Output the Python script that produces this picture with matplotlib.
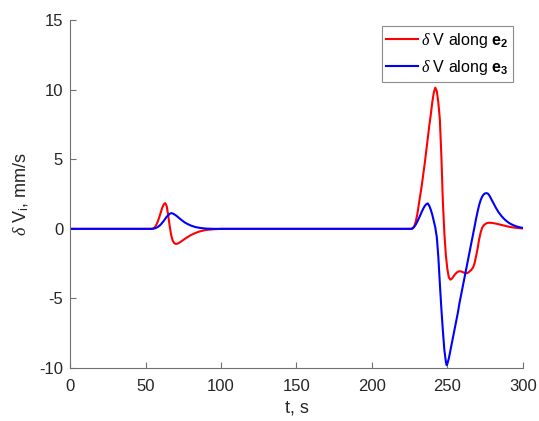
import matplotlib.pyplot as plt
import numpy as np

plt.rcParams['font.family'] = ['Liberation Sans', 'DejaVu Sans']
plt.rcParams['mathtext.fontset'] = 'custom'
plt.rcParams['mathtext.rm'] = 'Liberation Sans'
plt.rcParams['mathtext.it'] = 'Liberation Serif:italic'
plt.rcParams['mathtext.bf'] = 'Liberation Sans:bold'
plt.rcParams['axes.unicode_minus'] = False

# delta V along e2 (red)
t_e2 = [0, 54, 55, 56, 57, 58, 59, 60, 61, 62, 63, 64, 65, 66, 67, 68, 69, 70,
        71, 72, 73, 75, 77, 80, 83, 86, 90, 95, 100,
        226, 227, 228, 229, 230, 231, 232, 233, 234, 235, 236, 237, 238, 239,
        240, 241, 242, 243, 244, 245, 246, 247, 248, 249, 250, 251, 252, 253,
        254, 255, 256, 257, 258, 259, 260, 261, 262, 263, 264, 265, 266, 267,
        268, 269, 270, 271, 272, 273, 274, 275, 276, 277, 278, 280, 282, 284,
        287, 290, 293, 296, 300]
v_e2 = [0, 0, 0.02, 0.1, 0.25, 0.5, 0.8, 1.15, 1.5, 1.75, 1.85, 1.65, 1.0, 0.2,
        -0.45, -0.85, -1.02, -1.08, -1.07, -1.02, -0.95, -0.8, -0.65, -0.45,
        -0.3, -0.18, -0.08, -0.03, 0,
        0, 0.02, 0.15, 0.5, 1.0, 1.7, 2.4, 3.1, 3.9, 4.7, 5.6, 6.5, 7.4, 8.2,
        9.1, 9.8, 10.15, 9.9, 9.1, 7.9, 5.3, 2.0, -0.3, -1.9, -2.9, -3.5, -3.65,
        -3.58, -3.43, -3.28, -3.16, -3.08, -3.05, -3.06, -3.1, -3.15, -3.18, -3.18,
        -3.13, -3.03, -2.93, -2.78, -2.48, -1.98, -1.43, -0.78, -0.28, 0.07, 0.24,
        0.34, 0.4, 0.43, 0.44, 0.42, 0.38, 0.33, 0.25, 0.17, 0.11, 0.07, 0.03]

# delta V along e3 (blue)
t_e3 = [0, 54, 56, 58, 60, 62, 64, 66, 67, 68, 70, 72, 74, 76, 78, 80, 83, 86,
        90, 95,
        226, 227, 228, 229, 230, 231, 232, 233, 234, 235, 236, 237, 238, 239,
        240, 241, 242, 243, 244, 245, 246, 247, 248, 249, 249.5, 250, 251, 252,
        253, 254, 255, 256, 257, 258, 259, 260, 261, 262, 263, 264, 265, 266,
        267, 268, 269, 270, 271, 272, 273, 274, 275, 276, 277, 278, 279, 280,
        281, 282, 284, 286, 288, 290, 292, 294, 296, 298, 300]
v_e3 = [0, 0, 0.03, 0.12, 0.3, 0.56, 0.87, 1.08, 1.13, 1.11, 0.98, 0.8, 0.62,
        0.46, 0.34, 0.24, 0.13, 0.07, 0.02, 0,
        0, 0.05, 0.15, 0.3, 0.5, 0.73, 0.97, 1.22, 1.45, 1.64, 1.77, 1.83, 1.66,
        1.38, 1.02, 0.56, 0.1, -0.6, -2.0, -3.9, -5.7, -7.3, -8.7, -9.55, -9.8,
        -9.7, -9.3, -8.75, -8.2, -7.65, -7.1, -6.55, -6.0, -5.35, -4.8, -4.25,
        -3.7, -3.15, -2.6, -2.05, -1.5, -0.95, -0.4, 0.15, 0.72, 1.23, 1.69, 2.05,
        2.31, 2.47, 2.55, 2.57, 2.52, 2.37, 2.16, 1.95, 1.75, 1.54, 1.18, 0.9, 0.67,
        0.49, 0.35, 0.25, 0.17, 0.11, 0.07]

x_ticks = [0, 50, 100, 150, 200, 250, 300]
y_ticks = [-10, -5, 0, 5, 10, 15]

fig = plt.figure(figsize=(5.39, 4.21), dpi=100)
ax = fig.add_axes([0.130, 0.126, 0.840, 0.826])

ax.plot(t_e2, v_e2, color='#ff0000', lw=1.5, label=r'$\delta$ V along $\mathbf{e_2}$')
ax.plot(t_e3, v_e3, color='#0000ff', lw=1.5, label=r'$\delta$ V along $\mathbf{e_3}$')

ax.set_xlim(0, 300)
ax.set_ylim(-10, 15)
ax.set_xticks(x_ticks)
ax.set_yticks(y_ticks)
ax.spines['top'].set_visible(False)
ax.spines['right'].set_visible(False)
for s in ['left', 'bottom']:
    ax.spines[s].set_color('#707070')
    ax.spines[s].set_linewidth(0.8)
ax.tick_params(direction='in', length=4, width=0.8, color='#707070',
               labelcolor='#262626', labelsize=12)
ax.tick_params(axis='x', pad=8)
ax.tick_params(axis='y', pad=5)

ax.set_xlabel('t, s', fontsize=13, color='#262626', labelpad=4)
ax.set_ylabel(r'$\delta$ V$_\mathrm{i}$, mm/s', fontsize=13, color='#262626', labelpad=6)

leg = ax.legend(loc='upper right', fontsize=11.5, frameon=True, fancybox=False,
                handlelength=2.0, handletextpad=0.15, borderpad=0.3,
                labelspacing=0.5, borderaxespad=0, bbox_to_anchor=(0.978, 0.983))
leg.get_frame().set_edgecolor('#707070')
leg.get_frame().set_linewidth(0.8)

fig.savefig('out.png', dpi=100)
